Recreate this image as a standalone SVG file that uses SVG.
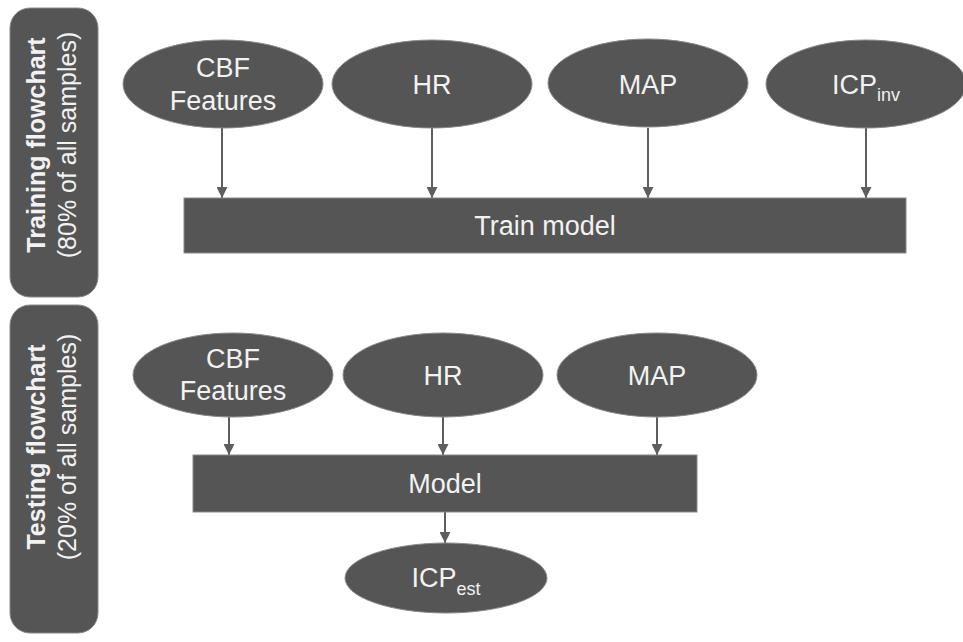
<svg xmlns="http://www.w3.org/2000/svg" width="963" height="642" viewBox="0 0 963 642">
<defs>
<marker id="ah" markerWidth="11" markerHeight="11" refX="11" refY="5.5" orient="auto" markerUnits="userSpaceOnUse" viewBox="0 0 11 11">
<path d="M0,0 L11,5.5 L0,11 Z" fill="#5e5e5e"/>
</marker>
</defs>
<style>
.shape{fill:#555555;stroke:#8a8a8a;stroke-width:1}
.t{fill:#f2f2f2;font-family:"Liberation Sans",Arial,sans-serif;font-size:27px;text-anchor:middle}
.sub{font-size:18px}
.side{fill:#f2f2f2;font-family:"Liberation Sans",Arial,sans-serif;font-size:25px;text-anchor:middle}
.b{font-weight:bold}
.c{stroke:#5e5e5e;stroke-width:2;fill:none;marker-end:url(#ah)}
</style>
<rect width="963" height="642" fill="#ffffff"/>
<g id="side-training">
<rect class="shape" x="10" y="8" width="88" height="289" rx="20" ry="20"/>
<text class="side b" transform="translate(45,145) rotate(-90)">Training flowchart</text>
<text class="side" transform="translate(76,145) rotate(-90)">(80% of all samples)</text>
</g>
<g id="side-testing">
<rect class="shape" x="10" y="305" width="88" height="328" rx="20" ry="20"/>
<text class="side b" transform="translate(45,447) rotate(-90)">Testing flowchart</text>
<text class="side" transform="translate(76,447) rotate(-90)">(20% of all samples)</text>
</g>
<g id="connectors">
<line class="c" x1="222" y1="128" x2="222" y2="198"/>
<line class="c" x1="432" y1="128" x2="432" y2="198"/>
<line class="c" x1="648" y1="128" x2="648" y2="198"/>
<line class="c" x1="866" y1="128" x2="866" y2="198"/>
<line class="c" x1="229" y1="417" x2="229" y2="455"/>
<line class="c" x1="443" y1="417" x2="443" y2="455"/>
<line class="c" x1="657" y1="417" x2="657" y2="455"/>
<line class="c" x1="445" y1="512" x2="445" y2="543"/>
</g>
<g id="train-cbf">
<ellipse class="shape" cx="223" cy="84" rx="100" ry="44"/>
<text class="t" x="223" y="77">CBF</text>
<text class="t" x="223" y="110">Features</text>
</g>
<g id="train-hr">
<ellipse class="shape" cx="432" cy="84" rx="100" ry="44"/>
<text class="t" x="432" y="94">HR</text>
</g>
<g id="train-map">
<ellipse class="shape" cx="648" cy="83" rx="100" ry="44"/>
<text class="t" x="648" y="94">MAP</text>
</g>
<g id="train-icpinv">
<ellipse class="shape" cx="866" cy="84" rx="100" ry="44"/>
<text class="t" x="866" y="94">ICP<tspan class="sub" dy="7">inv</tspan></text>
</g>
<g id="train-model">
<rect class="shape" x="184" y="198" width="722" height="55"/>
<text class="t" x="545" y="235">Train model</text>
</g>
<g id="test-cbf">
<ellipse class="shape" cx="233" cy="375" rx="100" ry="42"/>
<text class="t" x="233" y="368">CBF</text>
<text class="t" x="233" y="400">Features</text>
</g>
<g id="test-hr">
<ellipse class="shape" cx="443" cy="375" rx="100" ry="42"/>
<text class="t" x="443" y="385">HR</text>
</g>
<g id="test-map">
<ellipse class="shape" cx="657" cy="375" rx="100" ry="42"/>
<text class="t" x="657" y="385">MAP</text>
</g>
<g id="test-model">
<rect class="shape" x="193" y="455" width="504" height="57"/>
<text class="t" x="445" y="493">Model</text>
</g>
<g id="test-icpest">
<ellipse class="shape" cx="446" cy="578" rx="101" ry="35"/>
<text class="t" x="446" y="587">ICP<tspan class="sub" dy="8">est</tspan></text>
</g>
</svg>
